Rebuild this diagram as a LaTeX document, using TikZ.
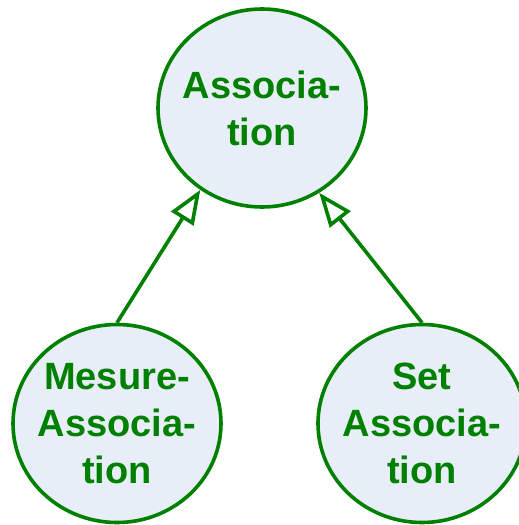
\documentclass[tikz,border=0pt]{standalone}
\usepackage{fontspec}
\setmainfont{Liberation Sans}
\usetikzlibrary{shapes.geometric,arrows.meta}
\definecolor{umlgreen}{RGB}{0,128,0}
\definecolor{umlfill}{RGB}{232,238,247}
\tikzset{
  classnode/.style={ellipse, draw=umlgreen, fill=umlfill, line width=3.6pt,
    minimum width=208pt, minimum height=198pt, inner sep=0pt},
  classtext/.style={text=umlgreen, align=center, inner sep=0pt,
    font=\fontsize{38}{47}\selectfont\bfseries},
  genarrow/.style={draw=umlgreen, line width=3.6pt,
    -{Triangle[open, length=34pt, width=26pt, fill=white]}}
}
\begin{document}
\begin{tikzpicture}[x=1pt,y=-1pt]
\useasboundingbox (0,0) rectangle (519,525);
\node[classnode] (top) at (262,108) {};
\node[classnode] (left) at (117,423.5) {};
\node[classnode] (right) at (422,423.5) {};
\node[classtext] (toptext) at (top) {Associa-\\tion};
\node[classtext] (lefttext) at (left) {Mesure-\\Associa-\\tion};
\node[classtext] (righttext) at (right) {Set\\Associa-\\tion};
\draw[genarrow] (left.north) -- (top.-127);
\draw[genarrow] (right.north) -- (top.-56);
\end{tikzpicture}
\end{document}
